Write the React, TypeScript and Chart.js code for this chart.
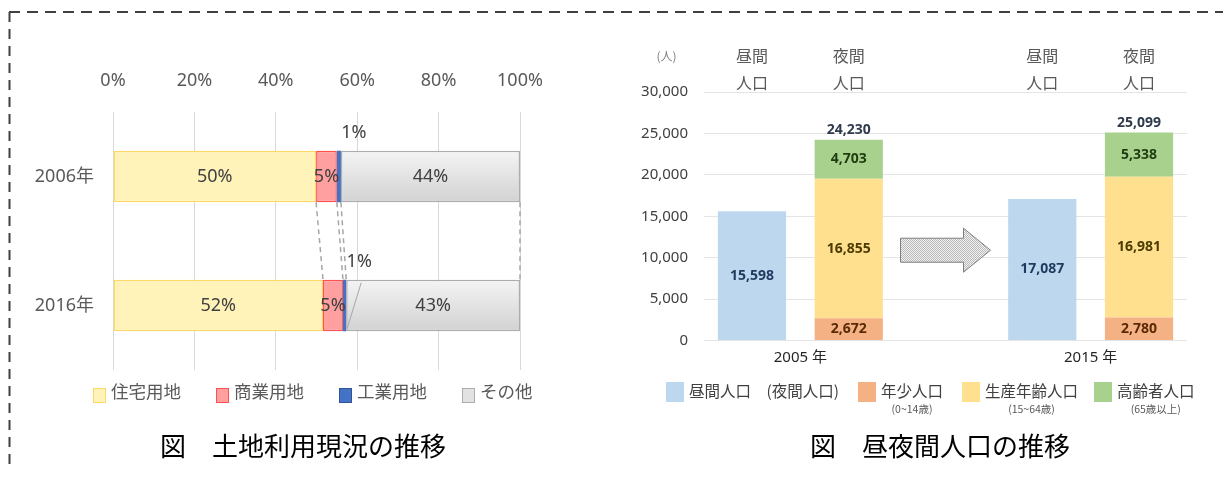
import React, { useEffect, useRef } from 'react';
import { Chart, registerables } from 'chart.js';

Chart.register(...registerables);

const SANS = "'Noto Sans', 'Noto Sans CJK JP', sans-serif";
const CJK = "'Noto Sans CJK JP', 'Noto Sans', sans-serif";

// ---------------- Left chart: land use (%) ----------------
const landYears = ['2006年', '2016年'];
const landNames = ['住宅用地', '商業用地', '工業用地', 'その他'];
const residentialPct = [49.9, 51.6];
const commercialPct = [5.1, 4.9];
const industrialPct = [1.0, 0.8];
const otherPct = [44.0, 42.7];
const landTickStep = 20;
const landMax = 100;
const landSmallLeader = [false, true];
const landTitle = '図　土地利用現況の推移';

// ---------------- Right chart: daytime / nighttime population ----------------
const popCategories = ['2005年 昼間人口', '2005年 夜間人口', '', '2015年 昼間人口', '2015年 夜間人口'];
const popHeaderTop = ['昼間', '夜間', '', '昼間', '夜間'];
const popHeaderBottom = ['人口', '人口', '', '人口', '人口'];
const daytimePop = [15598, null, null, 17087, null];
const youngPop = [null, 2672, null, null, 2780];
const workingPop = [null, 16855, null, null, 16981];
const elderlyPop = [null, 4703, null, null, 5338];
const popNames = ['昼間人口', '年少人口', '生産年齢人口', '高齢者人口'];
const popYears = ['2005 年', '2015 年'];
const popYearGroups = [[0, 1], [3, 4]];
const popArrowSlot = 2;
const popArrowLevel = 10900;
const popMax = 30000;
const popStep = 5000;
const popUnit = '(人)';
const popLegendMain = ['昼間人口　(夜間人口)', '年少人口', '生産年齢人口', '高齢者人口'];
const popLegendSub = ['', '(0~14歳)', '(15~64歳)', '(65歳以上)'];
const popTitle = '図　昼夜間人口の推移';

// ---------------- Styles ----------------
const landFill = ['#FFF3B9', '#FF9F9F', '#4472C4', '#E2E2E2'];
const landBorder = ['#FFD966', '#FF5050', '#2F5597', '#ADADAD'];
const popFill = ['#BDD7EE', '#F4B183', '#FFE08F', '#A9D18E'];
const popLabelColor = ['#1F3A5F', '#5A2A06', '#4D3B00', '#1F3B10'];
const popLegendLeft = [666, 858, 962, 1094];

function greyGradient(c: any) {
  const chart = c.chart;
  const area = chart.chartArea;
  const ys = chart.scales && chart.scales.y;
  if (!area || !ys || c.dataIndex == null) return landFill[3];
  const yc = ys.getPixelForValue(c.dataIndex);
  const half = (((area.bottom - area.top) / landYears.length) * 0.4) / 2;
  const g = chart.ctx.createLinearGradient(0, yc - half, 0, yc + half);
  g.addColorStop(0, '#F4F4F4');
  g.addColorStop(1, '#D2D2D2');
  return g;
}

const landPlugin = {
  id: 'landDecor',
  beforeDatasetsDraw(chart: any) {
    const { ctx } = chart;
    const xs = chart.scales.x;
    const series = [residentialPct, commercialPct, industrialPct, otherPct];
    const metas = series.map((_, k) => chart.getDatasetMeta(k));
    ctx.save();
    ctx.strokeStyle = '#A6A6A6';
    ctx.lineWidth = 1.5;
    ctx.setLineDash([5, 4]);
    for (let k = 0; k < series.length; k++) {
      for (let i = 0; i < landYears.length - 1; i++) {
        let c1 = 0;
        let c2 = 0;
        for (let j = 0; j <= k; j++) {
          c1 += series[j][i];
          c2 += series[j][i + 1];
        }
        const b1 = metas[k].data[i];
        const b2 = metas[k].data[i + 1];
        ctx.beginPath();
        ctx.moveTo(xs.getPixelForValue(c1), b1.y + b1.height / 2);
        ctx.lineTo(xs.getPixelForValue(c2), b2.y - b2.height / 2);
        ctx.stroke();
      }
    }
    ctx.restore();
  },
  afterDatasetsDraw(chart: any) {
    const { ctx } = chart;
    ctx.save();
    ctx.font = `18px ${SANS}`;
    ctx.fillStyle = '#404040';
    ctx.textAlign = 'center';
    ctx.textBaseline = 'middle';
    chart.data.datasets.forEach((ds: any, di: number) => {
      const meta = chart.getDatasetMeta(di);
      meta.data.forEach((bar: any, i: number) => {
        const v = ds.data[i];
        const txt = Math.round(v) + '%';
        const w = bar.x - bar.base;
        if (w < 10) {
          const top = bar.y - bar.height / 2;
          const lx = bar.x + 13;
          const ly = top - 18;
          ctx.fillText(txt, lx, ly);
          if (landSmallLeader[i]) {
            ctx.save();
            ctx.strokeStyle = '#A6A6A6';
            ctx.lineWidth = 1;
            ctx.beginPath();
            ctx.moveTo(lx + 2, top + 3);
            ctx.lineTo(bar.x + 1, bar.y + bar.height / 2 - 3);
            ctx.stroke();
            ctx.restore();
          }
        } else {
          ctx.fillText(txt, (bar.x + bar.base) / 2, bar.y);
        }
      });
    });
    ctx.restore();
  },
};

function makeDotPattern(ctx: CanvasRenderingContext2D) {
  const c = document.createElement('canvas');
  c.width = 2;
  c.height = 2;
  const p = c.getContext('2d')!;
  p.fillStyle = '#F2F2F2';
  p.fillRect(0, 0, 2, 2);
  p.fillStyle = '#B8B8B8';
  p.fillRect(0, 0, 1, 1);
  p.fillRect(1, 1, 1, 1);
  return ctx.createPattern(c, 'repeat');
}

const popPlugin = {
  id: 'popDecor',
  afterDatasetsDraw(chart: any) {
    const { ctx, chartArea } = chart;
    const xs = chart.scales.x;
    const ys = chart.scales.y;
    ctx.save();
    ctx.textAlign = 'center';
    ctx.textBaseline = 'middle';

    // values inside bars
    ctx.font = `bold 14px ${SANS}`;
    chart.data.datasets.forEach((ds: any, di: number) => {
      const meta = chart.getDatasetMeta(di);
      meta.data.forEach((bar: any, i: number) => {
        const v = ds.data[i];
        if (v == null) return;
        ctx.fillStyle = popLabelColor[di];
        ctx.fillText(v.toLocaleString('en-US'), bar.x, (bar.y + bar.base) / 2);
      });
    });

    // totals
    popCategories.forEach((_, i) => {
      const parts = [youngPop[i], workingPop[i], elderlyPop[i]];
      if (parts.every((p) => p == null)) return;
      const total = parts.reduce((a: number, b) => a + (b == null ? 0 : b), 0);
      ctx.fillStyle = '#2F3B4C';
      ctx.fillText(total.toLocaleString('en-US'), xs.getPixelForValue(i), ys.getPixelForValue(total) - 10);
    });

    // headers
    ctx.font = `16px ${CJK}`;
    ctx.fillStyle = '#595959';
    popCategories.forEach((_, i) => {
      const x = xs.getPixelForValue(i);
      if (popHeaderTop[i]) ctx.fillText(popHeaderTop[i], x, chartArea.top - 36);
      if (popHeaderBottom[i]) ctx.fillText(popHeaderBottom[i], x, chartArea.top - 9);
    });

    // unit
    ctx.font = `12px ${CJK}`;
    ctx.fillStyle = '#7F7F7F';
    ctx.fillText(popUnit, chartArea.left - 37, chartArea.top - 36);

    // year labels
    ctx.font = `15px ${SANS}`;
    ctx.fillStyle = '#262626';
    popYears.forEach((label, g) => {
      const [a, b] = popYearGroups[g];
      const x = (xs.getPixelForValue(a) + xs.getPixelForValue(b)) / 2;
      ctx.fillText(label, x, chartArea.bottom + 17);
    });

    // arrow
    const cx = xs.getPixelForValue(popArrowSlot);
    const cy = ys.getPixelForValue(popArrowLevel);
    const L = cx - 45;
    const R = cx + 45;
    const neck = R - 27;
    ctx.beginPath();
    ctx.moveTo(L, cy - 12);
    ctx.lineTo(neck, cy - 12);
    ctx.lineTo(neck, cy - 22);
    ctx.lineTo(R, cy);
    ctx.lineTo(neck, cy + 22);
    ctx.lineTo(neck, cy + 12);
    ctx.lineTo(L, cy + 12);
    ctx.closePath();
    const pat = makeDotPattern(ctx);
    ctx.fillStyle = pat || '#D9D9D9';
    ctx.fill();
    ctx.strokeStyle = '#7F7F7F';
    ctx.lineWidth = 1;
    ctx.stroke();

    ctx.restore();
  },
};

export default function App() {
  const leftRef = useRef<HTMLCanvasElement>(null);
  const rightRef = useRef<HTMLCanvasElement>(null);

  useEffect(() => {
    const landSeries = [residentialPct, commercialPct, industrialPct, otherPct];
    const left = new Chart(leftRef.current!, {
      type: 'bar',
      data: {
        labels: landYears,
        datasets: landSeries.map((data, k) => ({
          label: landNames[k],
          data,
          backgroundColor: k === 3 ? greyGradient : landFill[k],
          borderColor: landBorder[k],
          borderWidth: k === 2 ? 0 : 1.5,
          borderSkipped: false,
          categoryPercentage: 0.8,
          barPercentage: 0.5,
        })),
      },
      options: {
        indexAxis: 'y',
        animation: false,
        responsive: false,
        layout: { padding: { left: 0, right: 80, top: 0, bottom: 107 } },
        plugins: { legend: { display: false }, tooltip: { enabled: false } },
        scales: {
          x: {
            position: 'top',
            stacked: true,
            min: 0,
            max: landMax,
            ticks: {
              stepSize: landTickStep,
              callback: (v: any) => v + '%',
              font: { family: SANS, size: 18 },
              color: '#595959',
              padding: 20,
            },
            grid: { color: '#D9D9D9', drawTicks: false },
            border: { display: false },
            afterFit: (s: any) => {
              s.height = 112;
            },
          },
          y: {
            stacked: true,
            ticks: { font: { family: SANS, size: 18 }, color: '#595959', padding: 19 },
            grid: { display: false, drawTicks: false },
            border: { display: false },
            afterFit: (s: any) => {
              s.width = 113;
            },
          },
        },
      } as any,
      plugins: [landPlugin],
    } as any);

    const popSeries = [daytimePop, youngPop, workingPop, elderlyPop];
    const right = new Chart(rightRef.current!, {
      type: 'bar',
      data: {
        labels: popCategories,
        datasets: popSeries.map((data, k) => ({
          label: popNames[k],
          data,
          backgroundColor: popFill[k],
          borderWidth: 0,
          categoryPercentage: 1,
          barPercentage: 0.705,
        })),
      },
      options: {
        animation: false,
        responsive: false,
        layout: { padding: { left: 0, right: 35.6, top: 92, bottom: 136.5 } },
        plugins: { legend: { display: false }, tooltip: { enabled: false } },
        scales: {
          x: {
            stacked: true,
            ticks: { display: false },
            grid: { display: false, drawTicks: false },
            border: { display: false },
            afterFit: (s: any) => {
              s.height = 0;
            },
          },
          y: {
            stacked: true,
            min: 0,
            max: popMax,
            ticks: {
              stepSize: popStep,
              callback: (v: any) => Number(v).toLocaleString('en-US'),
              font: { family: SANS, size: 15 },
              color: '#404040',
              padding: 15.6,
            },
            grid: { color: '#E4E4E4', drawTicks: false },
            border: { display: false },
            afterFit: (s: any) => {
              s.width = 103.6;
            },
          },
        },
      } as any,
      plugins: [popPlugin],
    } as any);

    return () => {
      left.destroy();
      right.destroy();
    };
  }, []);

  return (
    <div
      style={{
        position: 'absolute',
        left: 0,
        top: 0,
        width: 1223,
        height: 477,
        background: '#FFFFFF',
        overflow: 'hidden',
      }}
    >
      <canvas
        ref={leftRef}
        width={600}
        height={477}
        style={{ position: 'absolute', left: 0, top: 0, width: 600, height: 477 }}
      />
      <canvas
        ref={rightRef}
        width={623}
        height={477}
        style={{ position: 'absolute', left: 600, top: 0, width: 623, height: 477 }}
      />

      <svg style={{ position: 'absolute', left: 0, top: 0 }} width={1223} height={477}>
        <line x1={9} y1={12} x2={1223} y2={12} stroke="#404040" strokeWidth={2} strokeDasharray="11 7" />
        <line x1={9.5} y1={12} x2={9.5} y2={470} stroke="#404040" strokeWidth={2} strokeDasharray="10 7" />
      </svg>

      {/* left legend */}
      <div
        style={{
          position: 'absolute',
          left: 93,
          top: 380,
          display: 'flex',
          gap: 35,
          font: `17.5px ${CJK}`,
          lineHeight: '22px',
          color: '#595959',
          whiteSpace: 'nowrap',
        }}
      >
        {landNames.map((n, k) => (
          <div key={n} style={{ display: 'flex', alignItems: 'flex-start' }}>
            <span
              style={{
                display: 'inline-block',
                width: 13,
                height: 15,
                boxSizing: 'border-box',
                background: landFill[k],
                border: `1.5px solid ${landBorder[k]}`,
                marginTop: 8,
                marginRight: 5,
              }}
            />
            <span>{n}</span>
          </div>
        ))}
      </div>

      {/* right legend */}
      {popLegendMain.map((m, k) => (
        <div
          key={m}
          style={{ position: 'absolute', left: popLegendLeft[k], top: 380, display: 'flex', alignItems: 'flex-start' }}
        >
          <span
            style={{ display: 'inline-block', width: 18, height: 20, background: popFill[k], marginTop: 2, marginRight: 5 }}
          />
          <div style={{ display: 'flex', flexDirection: 'column', alignItems: 'center' }}>
            <div style={{ font: `15.5px ${CJK}`, lineHeight: '20px', color: '#404040', whiteSpace: 'pre' }}>{m}</div>
            <div style={{ font: `10.5px ${CJK}`, lineHeight: '18px', color: '#595959', whiteSpace: 'pre' }}>
              {popLegendSub[k]}
            </div>
          </div>
        </div>
      ))}

      {/* titles */}
      <div
        style={{
          position: 'absolute',
          left: 0,
          width: 606,
          top: 427,
          textAlign: 'center',
          font: `26px ${CJK}`,
          lineHeight: '36px',
          color: '#000000',
          whiteSpace: 'pre',
        }}
      >
        {landTitle}
      </div>
      <div
        style={{
          position: 'absolute',
          left: 700,
          width: 480,
          top: 427,
          textAlign: 'center',
          font: `26px ${CJK}`,
          lineHeight: '36px',
          color: '#000000',
          whiteSpace: 'pre',
        }}
      >
        {popTitle}
      </div>
    </div>
  );
}
